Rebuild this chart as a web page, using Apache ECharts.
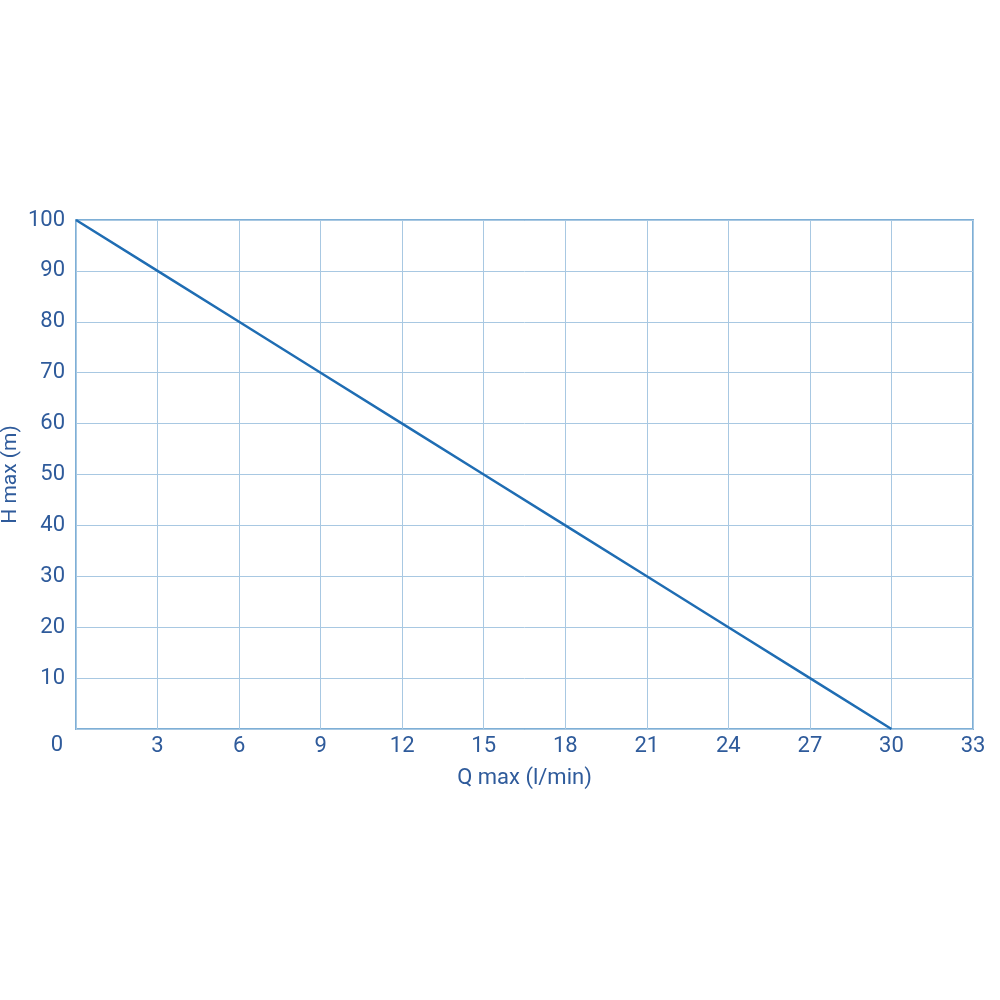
<!DOCTYPE html>
<html><head><meta charset="utf-8">
<script src="https://cdn.jsdelivr.net/npm/echarts@6/dist/echarts.min.js"></script>
<style>html,body{margin:0;padding:0;background:#fff}#c{width:1000px;height:1000px}</style>
</head><body><div id="c"></div>
<script>
const flowQ = [0, 3, 6, 9, 12, 15, 18, 21, 24, 27, 30];
const headH = [100, 90, 80, 70, 60, 50, 40, 30, 20, 10, 0];
const xName = 'Q max (l/min)';
const yName = 'H max (m)';
const txt = '#2f5b9b';
const font = 'Roboto';
const fs = 22;
const chart = echarts.init(document.getElementById('c'), null, {renderer: 'canvas'});
chart.setOption({
  animation: false,
  grid: {left: 76, top: 220, width: 897, height: 509, show: true, borderColor: '#7eafd6', borderWidth: 2,
    containLabel: false, outerBoundsMode: 'none'},
  xAxis: {
    type: 'value', min: 0, max: 33, interval: 3,
    name: xName, nameLocation: 'middle', nameGap: 38, nameMoveOverlap: false,
    nameTextStyle: {color: txt, fontSize: fs, fontFamily: font},
    axisLine: {show: false}, axisTick: {show: false},
    axisLabel: {color: txt, fontSize: fs, fontFamily: font, margin: 6, showMinLabel: false},
    splitLine: {lineStyle: {color: '#a8c8e2', width: 1}}
  },
  yAxis: {
    type: 'value', min: 0, max: 100, interval: 10,
    name: yName, nameLocation: 'middle', nameGap: 55, nameMoveOverlap: false,
    nameTextStyle: {color: txt, fontSize: 21, fontFamily: font},
    axisLine: {show: false}, axisTick: {show: false},
    axisLabel: {color: txt, fontSize: fs, fontFamily: font, margin: 11,
      formatter: v => v === 0 ? '{z|0}' : String(v),
      rich: {z: {color: txt, fontSize: fs, fontFamily: font, padding: [32, 2, 0, 0]}}},
    splitLine: {lineStyle: {color: '#a8c8e2', width: 1}}
  },
  series: [{
    type: 'line', data: flowQ.map((q, i) => [q, headH[i]]),
    showSymbol: false, lineStyle: {color: '#1f6db3', width: 2.5}
  }]
});
</script></body></html>
